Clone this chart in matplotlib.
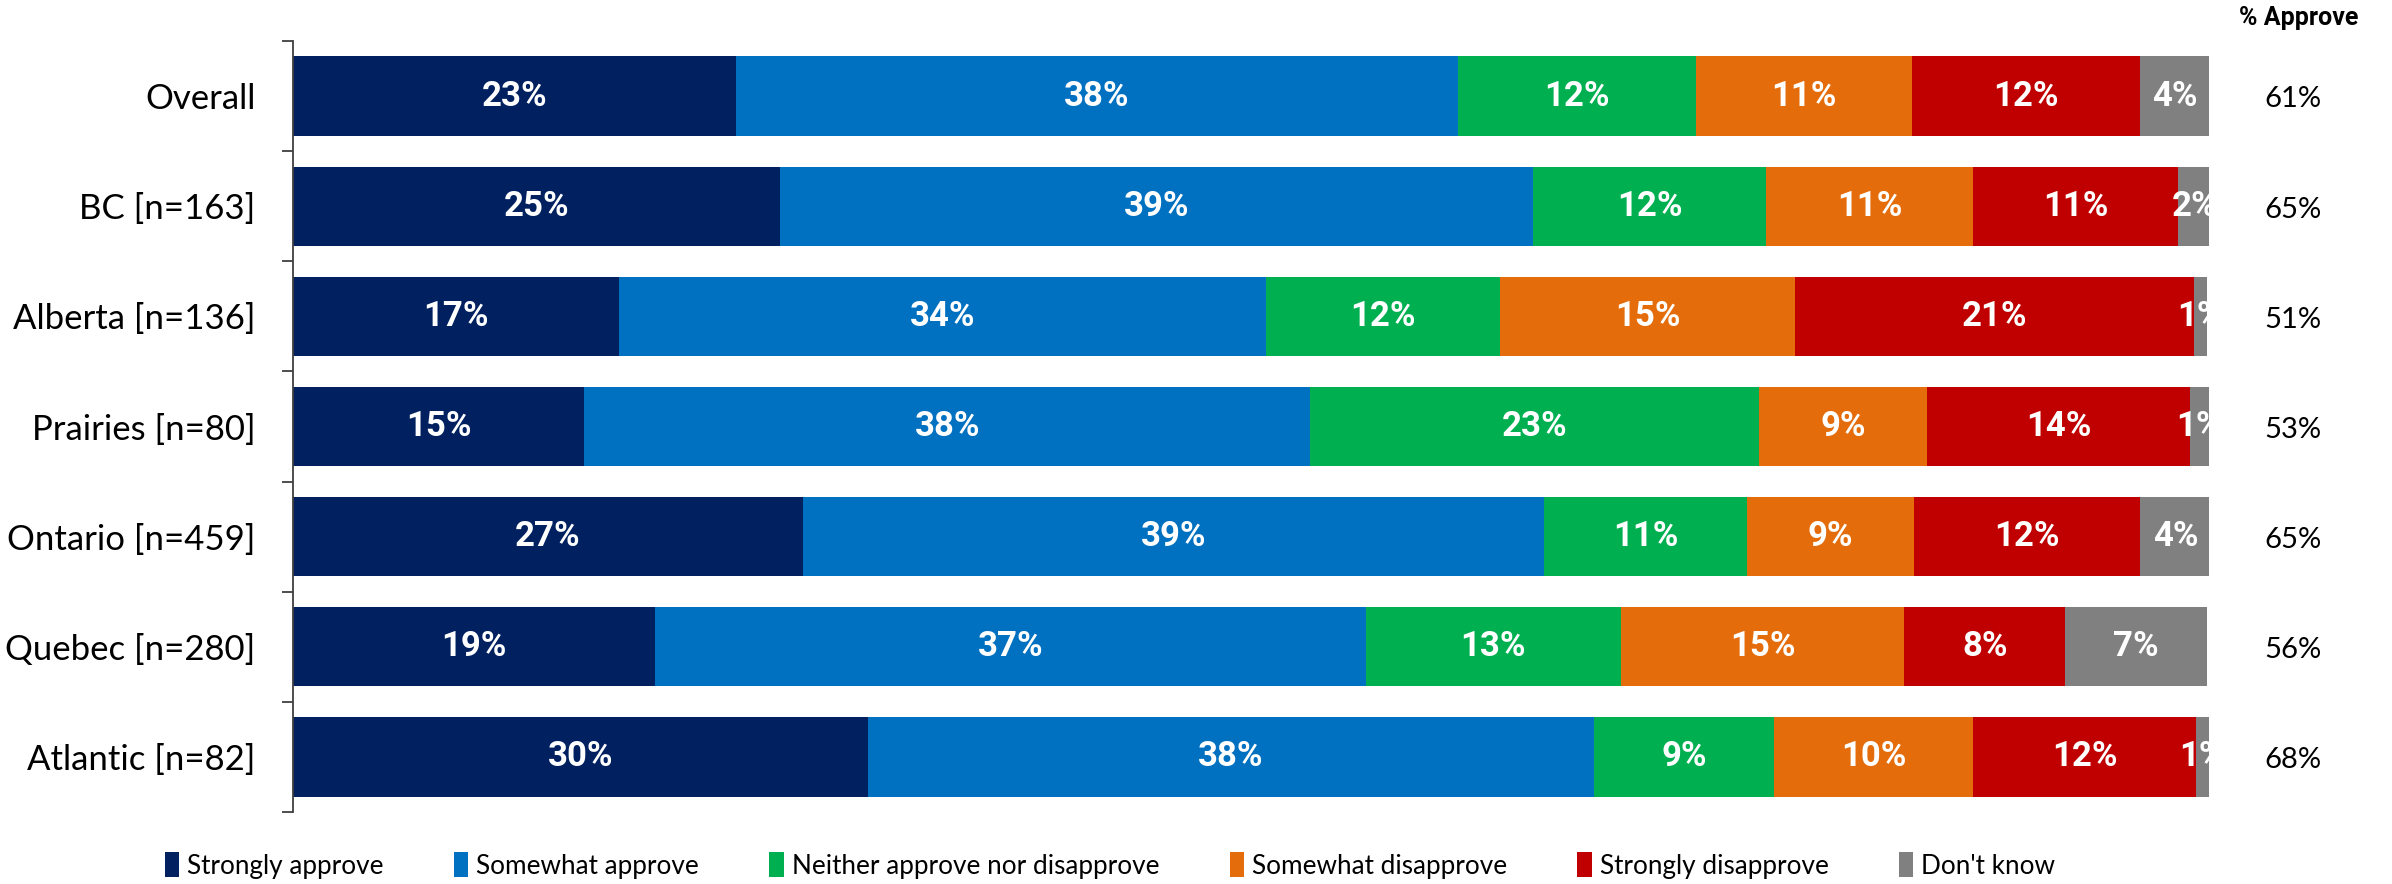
import matplotlib
matplotlib.use("Agg")
import matplotlib.pyplot as plt
from matplotlib.patches import Patch

plt.rcParams['font.family'] = ['Lato', 'DejaVu Sans']
BOLD_FONT = ['Roboto', 'DejaVu Sans']   # Lato has no bold face here

# data (segment widths in %)
regions = ['Overall', 'BC [n=163]', 'Alberta [n=136]', 'Prairies [n=80]',
           'Ontario [n=459]', 'Quebec [n=280]', 'Atlantic [n=82]']
responses = ['Strongly approve', 'Somewhat approve', 'Neither approve nor disapprove',
             'Somewhat disapprove', 'Strongly disapprove', "Don't know"]
strongly_approve = [23.1, 25.4, 17.0, 15.2, 26.6, 18.9, 30.0]
somewhat_approve = [37.7, 39.3, 33.8, 37.9, 38.7, 37.1, 37.9]
neither = [12.4, 12.2, 12.2, 23.4, 10.6, 13.3, 9.4]
somewhat_disapprove = [11.3, 10.8, 15.4, 8.8, 8.7, 14.8, 10.4]
strongly_disapprove = [11.9, 10.7, 20.8, 13.7, 11.8, 8.4, 11.6]
dont_know = [3.6, 1.7, 0.7, 1.0, 3.7, 7.4, 0.7]
pct_approve = [61, 65, 51, 53, 65, 56, 68]

colors = ['#002060', '#0070C0', '#00B050', '#E46C0A', '#C00000', '#808080']
series = [strongly_approve, somewhat_approve, neither,
          somewhat_disapprove, strongly_disapprove, dont_know]

fig = plt.figure(figsize=(23.92, 8.84), dpi=100)
ax = fig.add_axes([0.1225, 0.0814, 0.801, 0.8722])

ypos = list(range(len(regions)))
left = [0.0] * len(regions)
for vals, col in zip(series, colors):
    ax.barh(ypos, vals, left=left, height=0.72, color=col, edgecolor='none')
    for i, v in enumerate(vals):
        ax.text(left[i] + v / 2, i, f"{v:.0f}%", ha='center', va='center',
                color='white', fontsize=25, fontweight='bold',
                family=BOLD_FONT, clip_on=True)
    left = [l + v for l, v in zip(left, vals)]

ax.set_xlim(0, 100)
ax.set_ylim(len(regions) - 0.5, -0.5)

# ticks at category boundaries, labels at centres
ax.set_yticks([i - 0.5 for i in range(len(regions) + 1)])
ax.set_yticklabels([])
ax.tick_params(axis='y', which='major', length=8, width=1.3, color='#404040')
ax.set_yticks(ypos, minor=True)
ax.set_yticklabels(regions, minor=True, fontsize=25)
ax.tick_params(axis='y', which='minor', length=0, pad=27)
ax.set_xticks([])
for s in ['top', 'right', 'bottom']:
    ax.spines[s].set_visible(False)
ax.spines['left'].set_linewidth(1.3)
ax.spines['left'].set_color('#404040')

# % approve column
ax.text(104.7, -0.71, '% Approve', ha='center', va='center',
        fontsize=18, fontweight='bold', family=BOLD_FONT)
for i, p in enumerate(pct_approve):
    ax.text(104.4, i + 0.03, f"{p}%", ha='center', va='center', fontsize=21)

handles = [Patch(facecolor=c, edgecolor='none') for c in colors]
fig.legend(handles, responses, loc='center', bbox_to_anchor=(0.464, 0.021),
           ncol=6, frameon=False, fontsize=18.8, handlelength=0.55,
           handleheight=1.1, handletextpad=0.3, columnspacing=2.7)

fig.savefig('out.png', dpi=100)
